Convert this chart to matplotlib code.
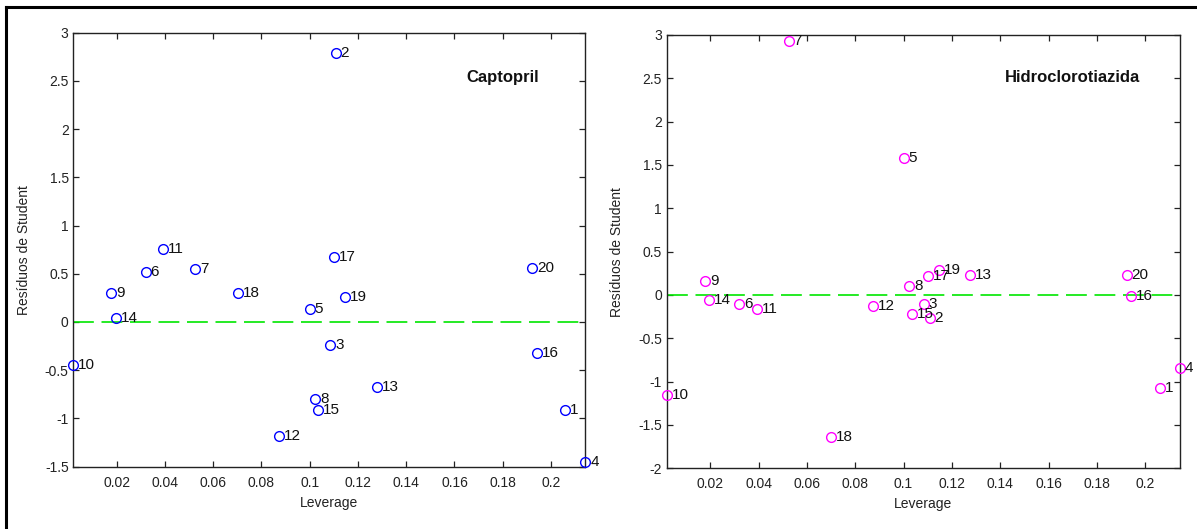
import matplotlib
matplotlib.use("Agg")
import matplotlib.pyplot as plt
from matplotlib.lines import Line2D
import numpy as np

plt.rcParams['font.family'] = ['Liberation Sans', 'DejaVu Sans']

# sample numbers 1..20 (used as point labels)
samples = [str(i) for i in range(1, 21)]

# leverage of each sample (same design in both models)
leverage = np.array([0.2060, 0.1108, 0.1085, 0.2143, 0.1000, 0.0320, 0.0525, 0.1023,
                     0.0178, 0.0021, 0.0393, 0.0872, 0.1277, 0.0197, 0.1033, 0.1942,
                     0.1101, 0.0701, 0.1146, 0.1923])

# studentized residuals
res_captopril = np.array([-0.909, 2.787, -0.240, -1.455, 0.130, 0.514, 0.549, -0.803,
                          0.304, -0.448, 0.762, -1.185, -0.672, 0.038, -0.912, -0.318,
                          0.670, 0.304, 0.262, 0.563])
res_hidro = np.array([-1.068, -0.265, -0.105, -0.847, 1.581, -0.100, 2.933, 0.100,
                      0.163, -1.154, -0.165, -0.132, 0.233, -0.060, -0.219, -0.008,
                      0.213, -1.640, 0.288, 0.233])

xticks = [0.02, 0.04, 0.06, 0.08, 0.1, 0.12, 0.14, 0.16, 0.18, 0.2]
xticklabels = ['0.02', '0.04', '0.06', '0.08', '0.1', '0.12', '0.14', '0.16', '0.18', '0.2']

fig = plt.figure(figsize=(11.97, 5.29), dpi=100)
fig.patch.set_facecolor('white')

ax1 = fig.add_axes([0.0614, 0.118, 0.4277, 0.820])
ax2 = fig.add_axes([0.5572, 0.1147, 0.4284, 0.8195])


def draw_panel(ax, res, color, ylim, yticks, name, name_xy):
    ax.plot(leverage, res, 'o', mfc='none', mec=color, ms=7, mew=1.0,
            clip_on=False, zorder=3)
    for lab, x, y in zip(samples, leverage, res):
        ax.annotate(lab, (x, y), xytext=(3.5, 0), textcoords='offset points',
                    ha='left', va='center', fontsize=11, color='#111111',
                    annotation_clip=False, zorder=4)
    ax.axhline(0, color='#00e600', lw=1.2, dashes=(12.5, 4.6), zorder=2)
    ax.set_xlim(leverage.min(), leverage.max())
    ax.set_ylim(*ylim)
    ax.set_xticks(xticks)
    ax.set_xticklabels(xticklabels)
    ax.set_yticks(yticks)
    ax.set_yticklabels(['%g' % v for v in yticks])
    ax.tick_params(direction='in', length=4.5, width=0.9, top=True, right=True,
                   labelsize=10, labelcolor='#222222', color='#222222')
    ax.tick_params(axis='x', pad=6.5)
    ax.tick_params(axis='y', pad=3.5)
    for sp in ax.spines.values():
        sp.set_color('#222222')
        sp.set_linewidth(1.0)
    ax.set_xlabel('Leverage', fontsize=10, color='#222222', va='center')
    ax.xaxis.set_label_coords(0.5, -0.083)
    ax.set_ylabel('Resíduos de Student', fontsize=10, color='#222222', va='center')
    ax.yaxis.set_label_coords(-0.097, 0.5)
    ax.text(name_xy[0], name_xy[1], name, fontsize=12, fontweight='bold',
            ha='left', va='center', color='#111111')


draw_panel(ax1, res_captopril, '#0000ff', (-1.5, 3),
           [-1.5, -1, -0.5, 0, 0.5, 1, 1.5, 2, 2.5, 3], 'Captopril', (0.1648, 2.54))
draw_panel(ax2, res_hidro, '#ff00ff', (-2, 3),
           [-2, -1.5, -1, -0.5, 0, 0.5, 1, 1.5, 2, 2.5, 3], 'Hidroclorotiazida',
           (0.1419, 2.507))

# black frame around the captured window (top and left edge)
fig.add_artist(Line2D([5.5 / 1197, 1.0], [1 - 7.3 / 529, 1 - 7.3 / 529],
                      color='black', lw=2.2, transform=fig.transFigure))
fig.add_artist(Line2D([5.5 / 1197, 5.5 / 1197], [0.0, 1 - 7.3 / 529],
                      color='black', lw=2.2, transform=fig.transFigure))

fig.savefig('out.png', dpi=100)
